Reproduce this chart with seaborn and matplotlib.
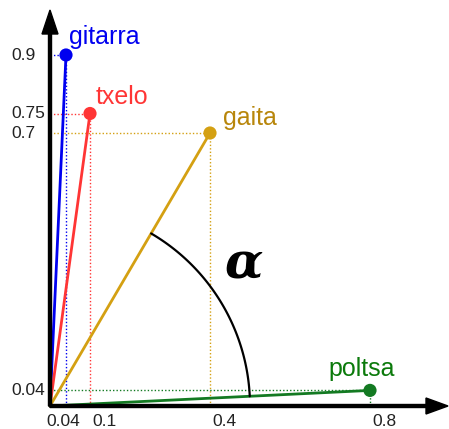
import numpy as np
import pandas as pd
import seaborn as sns
import matplotlib.pyplot as plt
from matplotlib.patches import FancyArrow

# Data: instrument vectors
instruments = ['gitarra', 'txelo', 'gaita', 'poltsa']
x_vals = [0.04, 0.1, 0.4, 0.8]
y_vals = [0.9, 0.75, 0.7, 0.04]
x_tick_labels = ['0.04', '0.1', '0.4', '0.8']
y_tick_labels = ['0.9', '0.75', '0.7', '0.04']

colors = {'gitarra': '#0000f0', 'txelo': '#ff3535', 'gaita': '#d4a012', 'poltsa': '#137a22'}
label_colors = {'gitarra': '#0000f0', 'txelo': '#ff3535', 'gaita': '#b8860b', 'poltsa': '#0b7a0b'}
# label offsets in pixels from each point
label_offsets = {'gitarra': (3, 18, 'left'), 'txelo': (6, 16, 'left'),
                 'gaita': (13, 15, 'left'), 'poltsa': (-8, 21, 'center')}

sns.set_style('white')
plt.rcParams['font.family'] = ['Liberation Sans', 'DejaVu Sans']

W, H = 449, 429
fig = plt.figure(figsize=(W / 100, H / 100), dpi=100)
ax = fig.add_axes([0, 0, 1, 1])

# pixel layout: origin at (50, 406), scale per unit
ox, oy = 50, 406
kx, ky = 400, 390
ax.set_xlim(-ox / kx, (W - ox) / kx)
ax.set_ylim(-(H - oy) / ky, oy / ky)
ax.axis('off')

# dotted guide lines
for name, x, y in zip(instruments, x_vals, y_vals):
    ax.plot([x, x], [0, y], ls=(0, (1, 1.5)), lw=1, color=colors[name], zorder=1)
    ax.plot([0, x], [y, y], ls=(0, (1, 1.5)), lw=1, color=colors[name], zorder=1)

# vectors from the origin
rows = []
for name, x, y in zip(instruments, x_vals, y_vals):
    rows.append({'instrument': name, 'x': 0, 'y': 0})
    rows.append({'instrument': name, 'x': x, 'y': y})
vec = pd.DataFrame(rows)
sns.lineplot(data=vec, x='x', y='y', hue='instrument', palette=colors, sort=False,
             estimator=None, lw=2, legend=False, ax=ax, zorder=2)

pts = pd.DataFrame({'instrument': instruments, 'x': x_vals, 'y': y_vals})
sns.scatterplot(data=pts, x='x', y='y', hue='instrument', palette=colors, s=90,
                edgecolor='none', legend=False, ax=ax, zorder=3)

for name, x, y in zip(instruments, x_vals, y_vals):
    dx, dy, ha = label_offsets[name]
    ax.annotate(name, (x, y), xytext=(dx, dy), textcoords='offset pixels',
                ha=ha, va='center', fontsize=18, color=label_colors[name])

# angle arc between gaita and poltsa
r = 200
a1 = np.arctan2(y_vals[3] * ky, x_vals[3] * kx)
a2 = np.arctan2(y_vals[2] * ky, x_vals[2] * kx)
t = np.linspace(a1, a2, 100)
ax.plot(r * np.cos(t) / kx, r * np.sin(t) / ky, color='black', lw=1.6, zorder=2)
ax.text((243 - ox) / kx, (oy - 265) / ky, 'α', fontsize=36, fontweight='bold',
        fontstyle='italic', family='DejaVu Serif', color='black',
        ha='center', va='center')

# axes arrows
ax.add_patch(FancyArrow(0, 0, (W - 1 - ox) / kx, 0, width=3 / ky, head_width=16 / ky,
                        head_length=22 / kx, length_includes_head=True,
                        color='black', zorder=5))
ax.add_patch(FancyArrow(0, 0, 0, (oy - 10) / ky, width=3 / kx, head_width=16 / kx,
                        head_length=24 / ky, length_includes_head=True,
                        color='black', zorder=5))

# tick labels
x_label_offsets = [-3, 2, 2, 2]
x_label_ha = ['center', 'left', 'left', 'left']
for x, lab, dx, ha in zip(x_vals, x_tick_labels, x_label_offsets, x_label_ha):
    ax.annotate(lab, (x, 0), xytext=(dx, -16), textcoords='offset pixels',
                ha=ha, va='center', fontsize=12.5, color='#222222')
for y, lab in zip(y_vals, y_tick_labels):
    ax.annotate(lab, (0, y), xytext=(-39, 0), textcoords='offset pixels',
                ha='left', va='center', fontsize=12.5, color='#222222')

fig.savefig('out.png', dpi=100)
